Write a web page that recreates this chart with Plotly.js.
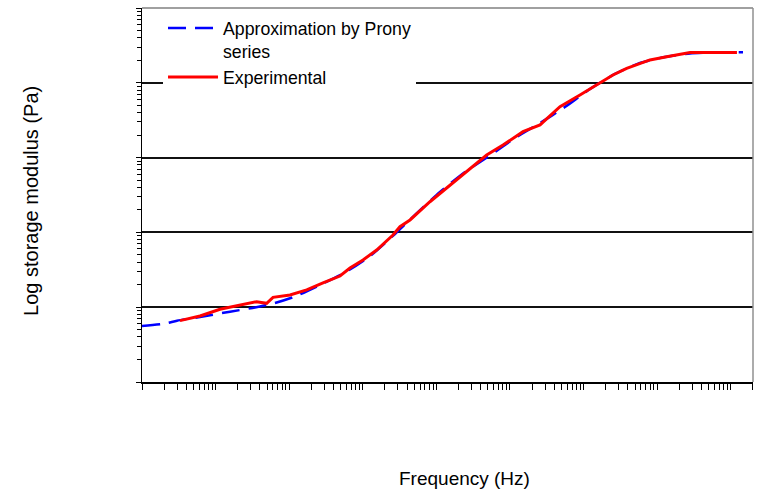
<!DOCTYPE html>
<html>
<head>
<meta charset="utf-8">
<script src="https://cdn.plot.ly/plotly-3.0.1.min.js"></script>
<style>
  html, body { margin: 0; padding: 0; background: #ffffff; }
  #chart { width: 760px; height: 492px; }
</style>
</head>
<body>
<div id="chart"></div>
<script>
// Storage modulus master curve: measured data and Prony series fit
const seriesNames = ['Approximation by Prony<br>series', 'Experimental'];

// Prony series approximation (frequency in Hz, modulus in Pa)
const pronyFreq = [1.0e-4, 2.05e-4, 2.99e-4, 6.14e-4, 1.57e-3, 3.43e-3, 6.41e-3, 1.20e-2,
  2.62e-2, 5.73e-2, 0.1253, 0.274, 0.512, 1.119, 2.45, 5.35, 11.7, 25.6, 55.8, 122.2,
  267, 583, 1276, 2793, 6095, 14660];
const pronyModulus = [5.61e4, 6.05e4, 6.61e4, 7.40e4, 8.71e4, 9.91e4, 1.138e5, 1.390e5,
  1.982e5, 2.91e5, 4.83e5, 9.53e5, 1.710e6, 3.47e6, 6.41e6, 1.067e7, 1.828e7, 2.90e7,
  4.74e7, 8.26e7, 1.312e8, 1.841e8, 2.21e8, 2.47e8, 2.54e8, 2.56e8];

// Experimental measurements (frequency in Hz, modulus in Pa)
const expFreq = [3.28e-4, 6.14e-4, 1.148e-3, 2.15e-3, 3.61e-3, 4.94e-3, 6.03e-3, 1.026e-2,
  1.73e-2, 2.88e-2, 4.90e-2, 6.70e-2, 0.1007, 0.1545, 0.257, 0.320, 0.438, 0.818, 1.531,
  2.58, 4.82, 8.04, 15.03, 25.6, 47.8, 89.3, 167.1, 250.6, 385, 798, 1346, 2388, 2793, 12130];
const expModulus = [6.61e4, 7.62e4, 9.38e4, 1.069e5, 1.186e5, 1.127e5, 1.355e5, 1.455e5,
  1.70e5, 2.11e5, 2.61e5, 3.34e5, 4.28e5, 5.82e5, 9.23e5, 1.191e6, 1.466e6, 2.57e6, 4.31e6,
  6.49e6, 1.084e7, 1.472e7, 2.22e7, 2.73e7, 4.79e7, 6.87e7, 1.002e8, 1.271e8, 1.563e8,
  2.02e8, 2.23e8, 2.43e8, 2.54e8, 2.54e8];

const xTitle = 'Frequency (Hz)';
const yTitle = 'Log storage modulus (Pa)';

const FONT = 'Liberation Sans, Arial, sans-serif';

const traces = [
  {
    x: pronyFreq, y: pronyModulus, name: seriesNames[0],
    type: 'scatter', mode: 'lines',
    line: { color: '#0000ff', width: 2.5, dash: '18px,9px', shape: 'spline', smoothing: 0.6 }
  },
  {
    x: expFreq, y: expModulus, name: seriesNames[1],
    type: 'scatter', mode: 'lines',
    line: { color: '#ff0000', width: 3 }
  }
];

const layout = {
  width: 760, height: 492,
  margin: { l: 142, r: 7, t: 8, b: 110 },
  paper_bgcolor: '#ffffff', plot_bgcolor: '#ffffff',
  font: { family: FONT, color: '#000000' },
  showlegend: true,
  legend: {
    x: 0.0344, y: 0.995, xanchor: 'left', yanchor: 'top',
    bgcolor: '#ffffff', borderwidth: 0,
    font: { family: FONT, size: 17.7, color: '#000000' },
    valign: 'top', itemwidth: 50, tracegroupgap: 4
  },
  xaxis: {
    type: 'log', range: [-4, 4.302], dtick: 1,
    showticklabels: false, showgrid: false, zeroline: false,
    showline: true, linecolor: '#000000', linewidth: 1.5,
    ticks: 'outside', ticklen: 6, tickcolor: '#000000', tickwidth: 1,
    minor: { dtick: 'D1', ticks: 'outside', ticklen: 6, tickcolor: '#000000', tickwidth: 1, showgrid: false }
  },
  yaxis: {
    type: 'log', range: [4, 9], dtick: 1,
    showticklabels: false, showgrid: true, gridcolor: '#111111', gridwidth: 2,
    zeroline: false,
    showline: true, linecolor: '#000000', linewidth: 1.5,
    ticks: 'outside', ticklen: 5, tickcolor: '#000000', tickwidth: 1,
    minor: { dtick: 'D1', ticks: 'outside', ticklen: 4, tickcolor: '#000000', tickwidth: 1, showgrid: false }
  },
  shapes: [
    { type: 'line', xref: 'paper', yref: 'paper', x0: 0, x1: 1, y0: 1, y1: 1,
      line: { color: '#808080', width: 1.5 } },
    { type: 'line', xref: 'paper', yref: 'paper', x0: 1, x1: 1, y0: 0, y1: 1,
      line: { color: '#909090', width: 1.5 } }
  ],
  annotations: [
    { text: xTitle, xref: 'paper', yref: 'paper', x: 0.5286, y: -0.2567,
      xanchor: 'center', yanchor: 'middle', showarrow: false,
      font: { family: FONT, size: 19, color: '#000000' } },
    { text: yTitle, xref: 'paper', yref: 'paper', x: -0.1817, y: 0.484,
      xanchor: 'center', yanchor: 'middle', showarrow: false, textangle: -90,
      font: { family: FONT, size: 20, color: '#000000' } }
  ]
};

Plotly.newPlot('chart', traces, layout, { staticPlot: true, displayModeBar: false });
</script>
</body>
</html>
